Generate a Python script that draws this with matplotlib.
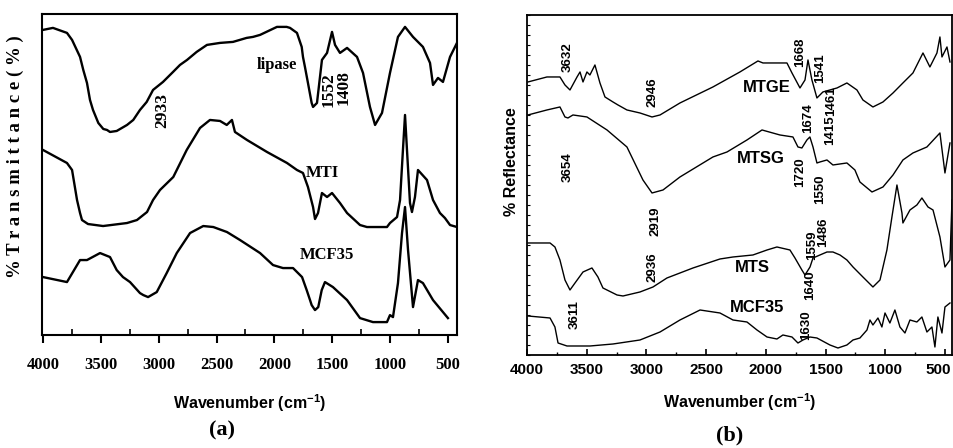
import matplotlib
matplotlib.use("Agg")
import matplotlib.pyplot as plt
import matplotlib.transforms as mtransforms
from matplotlib.ticker import MultipleLocator, NullLocator

# ---- panel (a): FTIR transmittance (stacked, arbitrary units) ----
wn_lipase = [4000, 3914, 3793, 3749, 3680, 3652, 3620, 3594, 3568, 3522, 3479, 3447,
             3421, 3363, 3274, 3220, 3162, 3104, 3049, 2963, 2876, 2816, 2755, 2672,
             2583, 2470, 2358, 2240, 2185, 2124, 1978, 1894, 1865, 1805, 1764, 1753,
             1736, 1710, 1678, 1666, 1632, 1589, 1545, 1502, 1476, 1433, 1372, 1286,
             1234, 1174, 1130, 1070, 1001, 932, 871, 802, 716, 655, 629, 586, 543,
             482, 422]
t_lipase = [305, 307, 302, 295, 278, 265, 252, 235, 225, 212, 206, 205,
            203, 204, 210, 215, 225, 233, 245, 253, 263, 270, 275, 283,
            290, 292, 293, 297, 298, 300, 308, 308, 307, 302, 288, 278,
            268, 252, 232, 228, 232, 275, 282, 303, 290, 282, 287, 278,
            262, 228, 210, 222, 262, 298, 308, 298, 288, 272, 250, 257, 253,
            278, 292]

wn_mti = [4000, 3793, 3749, 3706, 3680, 3663, 3611, 3481, 3274, 3188, 3101, 3049,
          2989, 2874, 2758, 2643, 2557, 2470, 2412, 2367, 2341, 2237, 2064, 1891,
          1805, 1753, 1710, 1666, 1649, 1623, 1589, 1545, 1502, 1433, 1372, 1260,
          1200, 1027, 1001, 940, 914, 889, 871, 854, 828, 811, 785, 759, 681, 629,
          569, 526, 482, 422]
t_mti = [185, 172, 165, 135, 122, 115, 111, 109, 112, 115, 123, 135,
         145, 158, 185, 207, 215, 214, 210, 215, 203, 195, 183, 172,
         165, 162, 148, 128, 116, 122, 142, 138, 142, 132, 122, 110,
         108, 108, 112, 118, 135, 185, 220, 185, 132, 123, 138, 165, 155, 135,
         122, 117, 110, 108]

wn_mcf_a = [4000, 3793, 3680, 3620, 3507, 3421, 3363, 3309, 3248, 3162, 3133, 3092,
            3017, 2931, 2844, 2729, 2615, 2528, 2410, 2297, 2124, 2012, 1926, 1839,
            1761, 1721, 1692, 1678, 1649, 1621, 1591, 1563, 1494, 1372, 1260, 1148,
            1027, 1001, 975, 932, 897, 871, 845, 802, 759, 716, 629, 543, 500]
t_mcf_a = [58, 53, 75, 75, 82, 78, 65, 58, 53, 42, 40, 38,
           43, 62, 82, 102, 109, 108, 103, 95, 82, 70, 67, 67,
           58, 45, 35, 30, 25, 28, 45, 53, 48, 35, 17, 13,
           13, 20, 18, 52, 102, 128, 85, 28, 55, 52, 35, 23, 17]

# peak labels (a): text, wavenumber, height
lab_a = ["2933", "1552", "1408"]
lab_a_wn = [2971, 1530, 1398]
lab_a_h = [224, 245, 247]
names_a = ["lipase", "MTI", "MCF35"]
names_a_wn = [1978, 1589, 1545]
names_a_h = [270, 162, 80]

# ---- panel (b): DRIFT reflectance (stacked, arbitrary units) ----
wn_mtge = [3992, 3833, 3724, 3682, 3640, 3581, 3556, 3531, 3498, 3473, 3431, 3389,
           3347, 3280, 3238, 3163, 3054, 2953, 2886, 2719, 2443, 2217, 2066, 2024,
           1823, 1781, 1714, 1672, 1647, 1614, 1572, 1522, 1463, 1404, 1321, 1237,
           1187, 1103, 1019, 935, 852, 768, 684, 626, 567, 542, 525, 483, 458]
r_mtge = [273, 278, 278, 270, 265, 278, 283, 273, 283, 280, 290, 272,
          258, 253, 250, 245, 242, 238, 240, 252, 268, 283, 294, 292,
          292, 282, 267, 275, 295, 275, 257, 263, 265, 267, 272, 265,
          255, 248, 253, 262, 272, 282, 302, 288, 302, 318, 298, 308, 293]

wn_mtsg = [3992, 3833, 3724, 3682, 3657, 3615, 3498, 3330, 3163, 3029, 2953, 2861,
           2719, 2443, 2325, 2158, 2032, 1882, 1773, 1731, 1698, 1656, 1631, 1605,
           1572, 1547, 1488, 1438, 1321, 1254, 1212, 1111, 1019, 935, 852, 768,
           651, 542, 500, 458]
r_mtsg = [240, 245, 248, 238, 237, 240, 238, 225, 208, 175, 162, 165,
          178, 198, 203, 215, 225, 220, 218, 208, 207, 215, 218, 208,
          192, 193, 195, 190, 192, 185, 173, 163, 168, 180, 195, 202,
          208, 222, 182, 212]

wn_mts = [3992, 3807, 3766, 3724, 3682, 3640, 3598, 3531, 3456, 3406, 3364, 3246,
          3196, 3054, 2945, 2828, 2610, 2384, 2275, 2108, 1990, 1907, 1798, 1756,
          1698, 1672, 1630, 1605, 1547, 1488, 1438, 1379, 1321, 1270, 1187, 1103,
          1044, 986, 944, 902, 860, 852, 793, 735, 693, 642, 600, 542, 500, 458, 441]
r_mts = [112, 112, 108, 95, 75, 65, 72, 83, 87, 78, 67, 60,
         59, 63, 68, 77, 87, 96, 98, 100, 105, 108, 105, 97,
         85, 80, 88, 97, 100, 103, 103, 100, 95, 88, 78, 68,
         75, 105, 138, 170, 142, 132, 145, 150, 157, 148, 145, 118, 88, 95, 155]

wn_mcf_b = [3992, 3807, 3766, 3740, 3665, 3473, 3280, 3054, 2886, 2719, 2551, 2384,
            2275, 2158, 2074, 1990, 1907, 1857, 1781, 1731, 1689, 1631, 1572, 1463,
            1396, 1321, 1270, 1212, 1153, 1128, 1103, 1061, 1028, 1002, 961, 919,
            877, 835, 793, 735, 693, 651, 609, 584, 559, 525, 500, 458]
r_mcf_b = [39, 37, 28, 12, 9, 9, 11, 15, 23, 35, 45, 42,
           35, 33, 25, 18, 16, 20, 18, 12, 15, 18, 17, 10,
           7, 10, 15, 17, 25, 35, 30, 37, 28, 42, 32, 45,
           28, 22, 35, 33, 38, 23, 28, 8, 38, 22, 48, 52]

lab_b = ["3632", "2946", "1668", "1541", "1461", "1415", "1674", "3654", "1720",
         "1550", "2919", "2936", "1559", "1486", "3611", "1640", "1630"]
lab_b_wn = [3657, 2953, 1714, 1547, 1455, 1463, 1647, 3657, 1714,
            1547, 2928, 2953, 1614, 1522, 3598, 1630, 1664]
lab_b_h = [298, 263, 303, 287, 254, 225, 237, 188, 183,
           166, 134, 88, 110, 123, 40, 70, 30]
names_b = ["MTGE", "MTSG", "MTS", "MCF35"]
names_b_wn = [1990, 2041, 2116, 2074]
names_b_h = [267, 196, 87, 47]

SERIF = ["Liberation Serif", "DejaVu Serif"]
SANS = ["Liberation Sans", "DejaVu Sans"]
plt.rcParams["mathtext.fontset"] = "custom"
plt.rcParams["mathtext.rm"] = "Liberation Sans"
plt.rcParams["mathtext.bf"] = "Liberation Sans:bold"


def xlabel_narrow(ax, pad):
    ax.set_xlabel(r"Wavenumber (cm$^{\mathbf{-1}}$)", family=SANS,
                  fontsize=11.5, fontweight="bold", labelpad=pad)


fig = plt.figure(figsize=(9.54, 4.48), dpi=100)
ax1 = fig.add_axes([0.044, 0.252, 0.435, 0.717])
ax2 = fig.add_axes([0.5524, 0.2076, 0.4455, 0.759])

# panel (a)
for wn, t in [(wn_lipase, t_lipase), (wn_mti, t_mti), (wn_mcf_a, t_mcf_a)]:
    ax1.plot(wn, t, color="black", lw=1.7, solid_joinstyle="round")
ax1.set_xlim(4009, 422)
ax1.set_ylim(0, 321)
ax1.xaxis.set_major_locator(MultipleLocator(500))
ax1.xaxis.set_minor_locator(MultipleLocator(250))
ax1.yaxis.set_major_locator(NullLocator())
ax1.tick_params(axis="x", which="major", direction="out", length=6, width=1.5, pad=10)
ax1.tick_params(axis="x", which="minor", direction="in", length=4, width=1.2)
for lbl in ax1.get_xticklabels():
    lbl.set_family(SERIF)
    lbl.set_fontweight("bold")
    lbl.set_fontsize(12)
for sp in ax1.spines.values():
    sp.set_linewidth(1.5)
for s, x, y in zip(lab_a, lab_a_wn, lab_a_h):
    ax1.text(x, y, s, rotation=90, ha="center", va="center", fontsize=12.5,
             family=SERIF, fontweight="bold")
for s, x, y in zip(names_a, names_a_wn, names_a_h):
    ax1.text(x, y, s, ha="center", va="center", fontsize=12, family=SERIF,
             fontweight="bold")
xlabel_narrow(ax1, 14)
fig.text(15 / 954, 1 - 157 / 448, "% T r a n s m i t t a n c e ( % )", rotation=90,
         ha="center", va="center", family=SERIF, fontsize=13.5, fontweight="bold")
fig.text(222 / 954, 1 - 430 / 448, "(a)", ha="center", va="center", family=SERIF,
         fontsize=16, fontweight="bold")

# panel (b)
for wn, r in [(wn_mtge, r_mtge), (wn_mtsg, r_mtsg), (wn_mts, r_mts), (wn_mcf_b, r_mcf_b)]:
    ax2.plot(wn, r, color="black", lw=1.0)
ax2.set_xlim(4000, 441)
ax2.set_ylim(0, 340)
ax2.xaxis.set_major_locator(MultipleLocator(500))
ax2.xaxis.set_minor_locator(MultipleLocator(250))
ax2.yaxis.set_major_locator(NullLocator())
ax2.yaxis.set_minor_locator(MultipleLocator(10))
ax2.tick_params(axis="x", which="major", direction="in", length=4, width=1.2, pad=6)
ax2.tick_params(axis="x", which="minor", direction="in", length=2.5, width=1.0)
ax2.tick_params(axis="y", which="minor", direction="in", length=2, width=0.8)
for lbl in ax2.get_xticklabels():
    lbl.set_family(SANS)
    lbl.set_fontweight("bold")
    lbl.set_fontsize(11)
# nudge the last tick label so it stays inside the figure
for tick in ax2.xaxis.get_major_ticks():
    if abs(tick.get_loc() - 500) < 1:
        shift = mtransforms.ScaledTranslation(-5 / 72, 0, fig.dpi_scale_trans)
        tick.label1.set_transform(tick.label1.get_transform() + shift)
for sp in ax2.spines.values():
    sp.set_linewidth(1.3)
for s, x, y in zip(lab_b, lab_b_wn, lab_b_h):
    ax2.text(x, y, s, rotation=90, ha="center", va="center", fontsize=9.5,
             family=SANS, fontweight="bold")
for s, x, y in zip(names_b, names_b_wn, names_b_h):
    ax2.text(x, y, s, ha="center", va="center", fontsize=12, family=SANS,
             fontweight="bold")
xlabel_narrow(ax2, 10)
fig.text(512 / 954, 1 - 162 / 448, "% Reflectance", rotation=90, ha="center",
         va="center", family=SANS, fontsize=11.5, fontweight="bold")
fig.text(730 / 954, 1 - 435 / 448, "(b)", ha="center", va="center", family=SERIF,
         fontsize=16, fontweight="bold")

fig.savefig("out.png", dpi=100)
